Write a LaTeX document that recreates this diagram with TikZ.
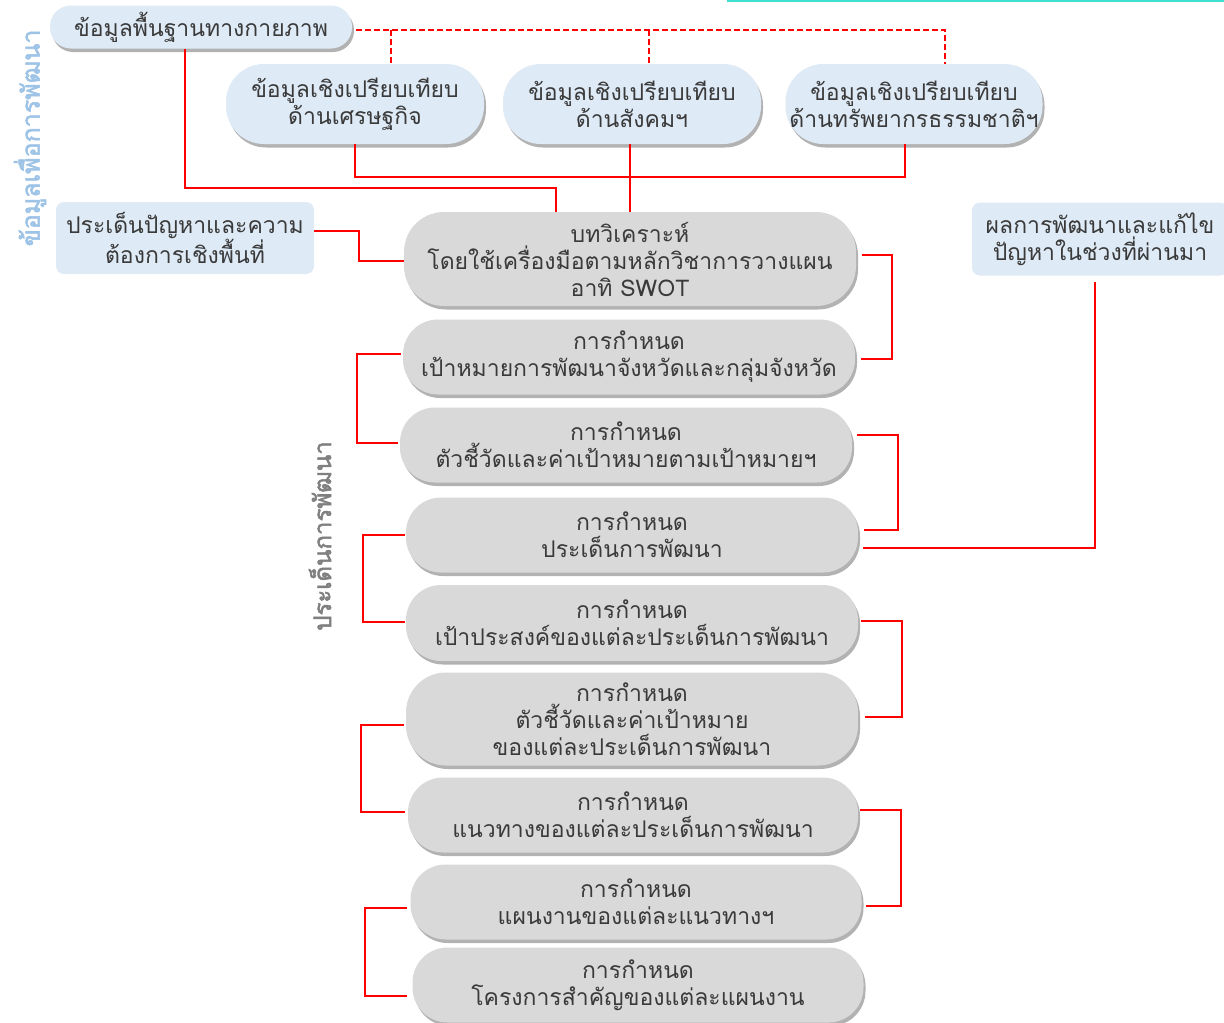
\documentclass[tikz,border=0pt]{standalone}
\usepackage{fontspec}
\newfontfamily\thai[Script=Thai]{Loma}
\newfontfamily\thaibold[Script=Thai,FakeBold=2.2]{Loma}
\usetikzlibrary{shadows}
\definecolor{pillgray}{HTML}{D9D9D9}
\definecolor{pillblue}{HTML}{DEEAF6}
\definecolor{txt}{HTML}{3A3A3A}
\definecolor{lblblue}{HTML}{9DC3E6}
\definecolor{lblgray}{HTML}{7F7F7F}
\definecolor{linkred}{HTML}{FF0000}
\definecolor{topcyan}{HTML}{40E0D0}
\begin{document}
\begin{tikzpicture}[x=1pt,y=-1pt,
  base/.style={align=center, inner sep=0pt, text=txt, font=\thai\fontsize{23}{27}\selectfont},
  shade/.style={drop shadow={shadow xshift=2pt, shadow yshift=-3.5pt, fill=black, opacity=0.3}},
  graypill/.style={base, fill=pillgray, rounded corners=35pt, shade},
  bluepill/.style={base, fill=pillblue, shade},
  bluebox/.style={base, fill=pillblue, rounded corners=8pt},
  link/.style={draw=linkred, line width=2.2pt},
  dashlink/.style={draw=linkred, line width=2pt, dash pattern=on 6pt off 3pt},
  sidelabel/.style={rotate=90, font=\thaibold\fontsize{25}{30}\selectfont}
]
\useasboundingbox (0,0) rectangle (1224,1023);
\fill[white] (0,0) rectangle (1224,1023);
\draw[topcyan, line width=2pt] (727,0.5) -- (1224,0.5);

% side labels
\node[sidelabel, text=lblblue] (lab1) at (30,138) {ข้อมูลเพื่อการพัฒนา};
\node[sidelabel, text=lblgray, font=\thaibold\fontsize{24}{30}\selectfont] (lab2) at (320,536) {ประเด็นการพัฒนา};

% top data nodes
\node[bluepill, minimum width=302pt, minimum height=43pt, rounded corners=21pt] (a) at (201,27) {ข้อมูลพื้นฐานทางกายภาพ};
\node[bluepill, minimum width=258pt, minimum height=80pt, rounded corners=38pt] (b1) at (355,104) {ข้อมูลเชิงเปรียบเทียบ\\ด้านเศรษฐกิจ};
\node[bluepill, minimum width=258pt, minimum height=80pt, rounded corners=38pt] (b2) at (632,104) {ข้อมูลเชิงเปรียบเทียบ\\ด้านสังคมฯ};
\node[bluepill, minimum width=257pt, minimum height=80pt, rounded corners=38pt] (b3) at (914,104) {ข้อมูลเชิงเปรียบเทียบ\\ด้านทรัพยากรธรรมชาติฯ};
\node[bluebox, minimum width=258pt, minimum height=72pt] (c) at (185,238) {ประเด็นปัญหาและความ\\ต้องการเชิงพื้นที่};
\node[bluebox, minimum width=256pt, minimum height=73pt] (d) at (1100,239) {ผลการพัฒนาและแก้ไข\\ปัญหาในช่วงที่ผ่านมา};

% process pills
\node[graypill, minimum width=452pt, minimum height=94pt, rounded corners=40pt] (s1) at (630,259) {บทวิเคราะห์\\โดยใช้เครื่องมือตามหลักวิชาการวางแผน\\อาทิ SWOT};
\node[graypill, minimum width=452pt, minimum height=75pt] (s2) at (629,357) {การกำหนด\\เป้าหมายการพัฒนาจังหวัดและกลุ่มจังหวัด};
\node[graypill, minimum width=452pt, minimum height=75pt] (s3) at (626,445) {การกำหนด\\ตัวชี้วัดและค่าเป้าหมายตามเป้าหมายฯ};
\node[graypill, minimum width=452pt, minimum height=75pt] (s4) at (632,535) {การกำหนด\\ประเด็นการพัฒนา};
\node[graypill, minimum width=452pt, minimum height=76pt] (s5) at (632,623) {การกำหนด\\เป้าประสงค์ของแต่ละประเด็นการพัฒนา};
\node[graypill, minimum width=452pt, minimum height=93pt, rounded corners=40pt] (s6) at (632,719) {การกำหนด\\ตัวชี้วัดและค่าเป้าหมาย\\ของแต่ละประเด็นการพัฒนา};
\node[graypill, minimum width=450pt, minimum height=75pt] (s7) at (633,815) {การกำหนด\\แนวทางของแต่ละประเด็นการพัฒนา};
\node[graypill, minimum width=451pt, minimum height=75pt] (s8) at (636,902) {การกำหนด\\แผนงานของแต่ละแนวทางฯ};
\node[graypill, minimum width=451pt, minimum height=75pt] (s9) at (638,985) {การกำหนด\\โครงการสำคัญของแต่ละแผนงาน};

% routing coordinates
\coordinate (ja) at (556,188);
\coordinate (jb) at (630,177);
\coordinate (jc) at (359,245);
\coordinate (dd1) at (391,30);
\coordinate (dd2) at (649,30);
\coordinate (r12) at (892,300);
\coordinate (l23) at (357,400);
\coordinate (r34) at (898,480);
\coordinate (l45) at (363,580);
\coordinate (r56) at (902,670);
\coordinate (l67) at (361,770);
\coordinate (r78) at (901,860);
\coordinate (l89) at (365,950);

% dashed links from the basic data
\draw[dashlink] ([xshift=4pt,yshift=-3pt]a.east) -| ([xshift=31pt]b3.north);
\draw[dashlink] (dd1) -- (dd1 |- b1.north);
\draw[dashlink] (dd2) -- (dd2 |- b2.north);

% solid links into the analysis
\draw[link] ([xshift=-16pt]a.south) |- (ja) -- (ja |- s1.north);
\draw[link] (b1.south) |- (jb) -| ([xshift=-9pt]b3.south);
\draw[link] (b2.south -| jb) -- (jb |- s1.north);
\draw[link] ([yshift=7pt]c.east) -| (jc) |- ([yshift=-2pt]s1.west);
\draw[link] ([xshift=-5pt,yshift=-6pt]d.south) |- ([xshift=5pt,yshift=-13pt]s4.east);

% brackets between steps
\draw[link] ([xshift=6pt,yshift=4pt]s1.east) -| (r12) |- ([xshift=6pt,yshift=-2pt]s2.east);
\draw[link] ([xshift=-2pt,yshift=3pt]s2.west) -| (l23) |- ([xshift=-2pt,yshift=2pt]s3.west);
\draw[link] ([xshift=5pt,yshift=10pt]s3.east) -| (r34) |- ([xshift=6pt,yshift=5pt]s4.east);
\draw[link] ([xshift=-1pt]s4.west) -| (l45) |- ([xshift=-1pt,yshift=1pt]s5.west);
\draw[link] ([xshift=3pt,yshift=2pt]s5.east) -| (r56) |- ([xshift=7pt,yshift=2pt]s6.east);
\draw[link] ([xshift=-2pt,yshift=-6pt]s6.west) -| (l67) |- ([xshift=-3pt,yshift=3pt]s7.west);
\draw[link] ([xshift=2pt,yshift=5pt]s7.east) -| (r78) |- ([xshift=4pt,yshift=-4pt]s8.east);
\draw[link] ([xshift=-3pt,yshift=-6pt]s8.west) -| (l89) |- ([xshift=-5pt,yshift=-11pt]s9.west);
\end{tikzpicture}
\end{document}
